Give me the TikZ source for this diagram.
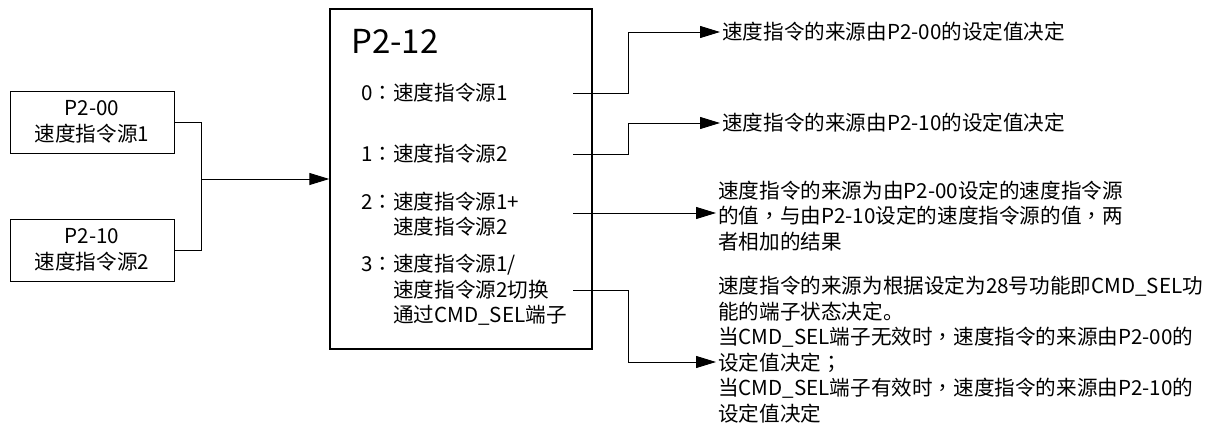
\documentclass[tikz,border=0pt]{standalone}
\usepackage{fontspec}
\setmainfont{Noto Sans CJK SC}
\newfontfamily\tcpunct{Noto Sans CJK TC}
\newcommand{\cc}{{\tcpunct ：}}
\newcommand{\cm}{{\tcpunct ，}}
\newcommand{\cs}{{\tcpunct ；}}
\usetikzlibrary{arrows.meta}
\begin{document}
\begin{tikzpicture}[x=1pt,y=-1pt,
  txt/.style={font={\fontsize{20.6pt}{25.5pt}\selectfont}, inner sep=0pt, align=left},
  srcbox/.style={draw, line width=1pt, minimum width=164pt, minimum height=62pt,
    align=center, inner sep=0pt, font={\fontsize{20.6pt}{26pt}\selectfont}},
  mainbox/.style={draw, line width=1.4pt, minimum width=262pt, minimum height=340pt, inner sep=0pt},
  titletxt/.style={font={\fontsize{33pt}{38pt}\selectfont}, inner sep=0pt},
  wire/.style={line width=1pt},
  arr/.style={wire, -{Triangle[length=20pt,width=12pt]}},
]
\useasboundingbox (0,0) rectangle (1213,423);

% source boxes
\node[srcbox] (b1) at (92,122) {P2-00\\速度指令源1};
\node[srcbox] (b2) at (92,250) {P2-10\\速度指令源2};
\coordinate (j) at (201,179);

% main box
\node[mainbox] (big) at (461,179) {};
\node[titletxt, anchor=base west] (title) at (351,53) {P2-12};
\node[txt, anchor=west] (i0) at (361,93) {0\cc 速度指令源1};
\node[txt, anchor=west] (i1) at (361,154) {1\cc 速度指令源2};
\node[txt, anchor=west] (i2) at (361,214) {2\cc 速度指令源1+\\\phantom{2\cc}速度指令源2};
\node[txt, anchor=west] (i3) at (361,290) {3\cc 速度指令源1/\\\phantom{3\cc}速度指令源2切换\\\phantom{3\cc}通过CMD\_SEL端子};

% line start points inside the main box
\coordinate (s0) at (573,93);
\coordinate (s1) at (573,154);
\coordinate (s2) at (573,213);
\coordinate (s3) at (573,290);

% result texts
\node[txt, anchor=west, inner xsep=2pt] (t1) at (720,32) {速度指令的来源由P2-00的设定值决定};
\node[txt, anchor=west, inner xsep=2pt] (t2) at (720,123) {速度指令的来源由P2-10的设定值决定};
\node[txt, anchor=west, inner xsep=2pt] (t3) at (716,216) {速度指令的来源为由P2-00设定的速度指令源\\的值\cm 与由P2-10设定的速度指令源的值\cm 两\\者相加的结果};
\node[txt, anchor=west, inner xsep=2pt] (t4) at (716,349.5) {速度指令的来源为根据设定为28号功能即CMD\_SEL功\\能的端子状态决定。\\当CMD\_SEL端子无效时\cm 速度指令的来源由P2-00的\\设定值决定\cs\\当CMD\_SEL端子有效时\cm 速度指令的来源由P2-10的\\设定值决定};
\coordinate (e4) at (716,362);

% connectors
\draw[wire] (b1.east) -| (j);
\draw[wire] (b2.east) -| (j);
\draw[arr] (j) -- (big);
\draw[arr] (s0) -- ++(55,0) |- (t1.west);
\draw[arr] (s1) -- ++(55,0) |- (t2.west);
\draw[arr] (s2) -- (s2 -| t3.west);
\draw[arr] (s3) -- ++(55,0) |- (e4);
\end{tikzpicture}
\end{document}
